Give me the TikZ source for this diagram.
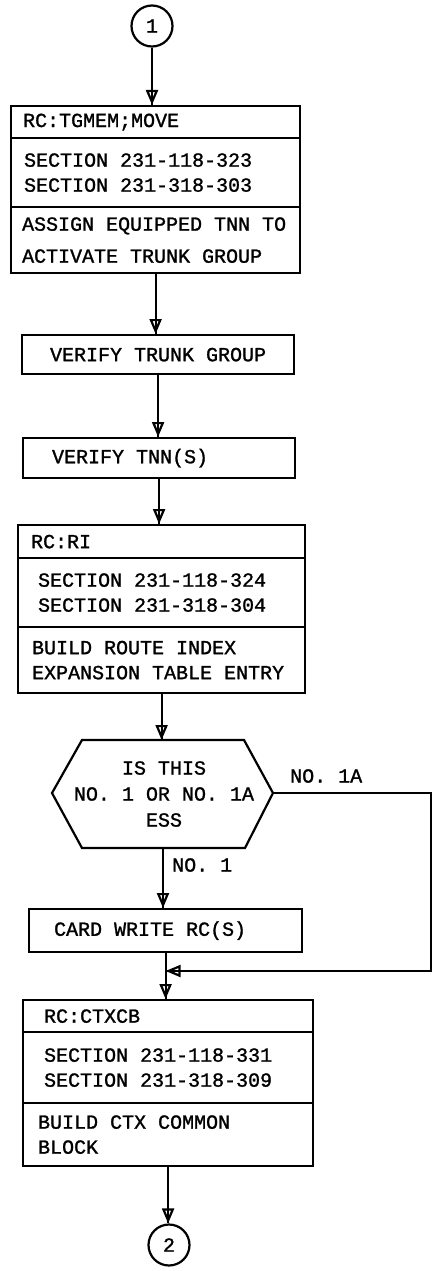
\documentclass[tikz,border=0pt]{standalone}
\usepackage{fontspec}
\newfontfamily\leroyfont[FakeBold=1.2]{Liberation Mono}
\usetikzlibrary{arrows.meta}

\begin{document}
\begin{tikzpicture}[
  x=1pt, y=-1pt,
  every node/.style={font=\leroyfont\fontsize{20}{25}\selectfont},
  row/.style={draw, line width=2.2pt, anchor=north west, align=flush left, inner ysep=0pt},
  joint/.style={draw, line width=2.2pt, circle, minimum size=41pt, inner sep=0pt},
  flow/.style={line width=2.2pt, -{Triangle[open, length=15pt, width=12pt]}, postaction={draw, -}},
  branch/.style={anchor=west, inner sep=0pt}
]
\useasboundingbox (0,0) rectangle (433,1271);

\node[joint] (c1) at (152,26) {1};

\node[row, minimum height=32pt, inner xsep=12pt, text width=265pt] (tgA) at (10,105) {RC:TGMEM;MOVE};
\node[row, minimum height=69pt, inner xsep=13pt, text width=263pt] (tgB) at (10,137) {SECTION 231-118-323\\SECTION 231-318-303};
\node[row, minimum height=66pt, inner xsep=11pt, text width=267pt] (tgC) at (10,206) {ASSIGN EQUIPPED TNN TO\\[7pt]ACTIVATE TRUNK GROUP};

\node[row, minimum height=39pt, inner xsep=28pt, text width=216pt] (vtg) at (21,334) {VERIFY TRUNK GROUP};
\node[row, minimum height=40pt, inner xsep=29pt, text width=214pt] (vtn) at (22,437) {VERIFY TNN(S)};

\node[row, minimum height=33pt, inner xsep=13pt, text width=261pt] (riA) at (17,524) {RC:RI};
\node[row, minimum height=69pt, inner xsep=20pt, text width=247pt] (riB) at (17,557) {SECTION 231-118-324\\SECTION 231-318-304};
\node[row, minimum height=66pt, inner xsep=14pt, text width=259pt] (riC) at (17,626) {BUILD ROUTE INDEX\\EXPANSION TABLE ENTRY};

\coordinate (hexN) at (161,740);
\coordinate (hexS) at (163,848);
\coordinate (hexE) at (273,793);
\draw[line width=2.2pt] (52,793) -- (82,740) -- (244,740) -- (hexE) -- (245,848) -- (82,848) -- cycle;
\node[align=center, font=\leroyfont\fontsize{20}{26}\selectfont] (ess) at (164,794) {IS THIS\\NO. 1 OR NO. 1A\\ESS};
\node[branch] (no1a) at (290,776) {NO. 1A};
\node[branch] (no1) at (172,865) {NO. 1};

\node[row, minimum height=43pt, inner xsep=25pt, text width=223pt] (cw) at (28,908) {CARD WRITE RC(S)};
\coordinate (bypass) at (431,971);

\node[row, minimum height=32pt, inner xsep=21pt, text width=248pt] (cxA) at (22,999) {RC:CTXCB};
\node[row, minimum height=71pt, inner xsep=21pt, text width=248pt] (cxB) at (22,1031) {SECTION 231-118-331\\SECTION 231-318-309};
\node[row, minimum height=63pt, inner xsep=15pt, text width=260pt] (cxC) at (22,1102) {BUILD CTX COMMON\\BLOCK};

\node[joint] (c2) at (169,1245) {2};

\draw[flow] (c1) -- (c1 |- tgA.north);
\draw[flow] (tgC.south) -- (tgC.south |- vtg.north);
\draw[flow] (vtg.south) -- (vtg.south |- vtn.north);
\draw[flow] (vtn.south) -- (vtn.south |- riA.north);
\draw[flow] (riC.south) -- (riC.south |- hexN);
\draw[flow] (hexS) -- (hexS |- cw.north);
\draw[flow] (cw.south) -- (cw.south |- cxA.north);
\draw[flow] (hexE) -| (bypass) -- (bypass -| cw.south);
\draw[flow] (cxC.south) -- (cxC.south |- c2.north);

\end{tikzpicture}
\end{document}
